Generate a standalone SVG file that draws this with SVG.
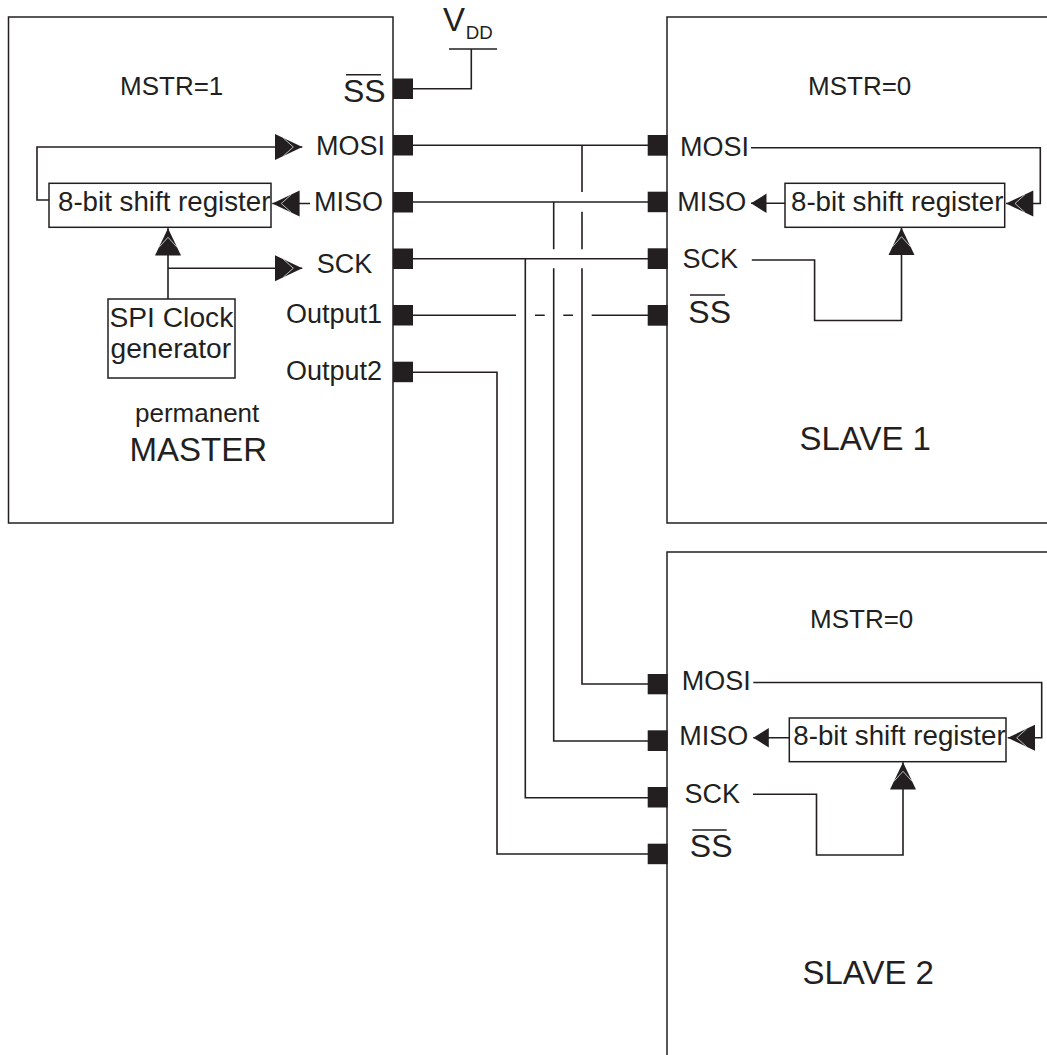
<svg xmlns="http://www.w3.org/2000/svg" width="1047" height="1055" viewBox="0 0 1047 1055">
<style>
text{font-family:"Liberation Sans",Arial,sans-serif;fill:#231f20;font-size:27px}
.b{fill:none;stroke:#231f20;stroke-width:1.5}
.c{fill:none;stroke:#231f20;stroke-width:1.6}
.p{fill:#231f20}
.r{font-size:27.7px}
.s{font-size:32px}
.l{font-size:33px}
.m{font-size:26px}
.g{font-size:28.2px}
</style>
<defs>
<marker id="dbl" markerUnits="userSpaceOnUse" markerWidth="30" markerHeight="30" viewBox="-29 -14 30 28" refX="0" refY="0" orient="auto">
<polygon points="-27.3,-13 0,0 -27.3,13" fill="#231f20"/>
<polyline points="-19,-9 -9,0 -19,9" fill="none" stroke="#fff" stroke-width="0.7"/>
</marker>
<marker id="sgl" markerUnits="userSpaceOnUse" markerWidth="18" markerHeight="22" viewBox="-17 -11 18 22" refX="0" refY="0" orient="auto">
<polygon points="-15.5,-9.7 0,0 -15.5,9.7" fill="#231f20"/>
</marker>
</defs>
<g id="connectors">
<path class="c" d="M449,49H497M471.3,49V88.7H413"/>
<path class="c" d="M413,145.3H648"/>
<path class="c" d="M413,202H648"/>
<path class="c" d="M413,258.7H648"/>
<path class="c" d="M413,315.3H516M535,315.3H544.7M563.3,315.3H573M591.7,315.3H648"/>
<path class="c" d="M413,372.3H497V854H648"/>
<path class="c" d="M582,145.3V192M582,211.7V249.3M582,268.3V684H648"/>
<path class="c" d="M553.7,202V249.3M553.7,268.3V741H648"/>
<path class="c" d="M525.3,258.7V797.7H648"/>
<path class="c" marker-end="url(#dbl)" d="M49,200H37V147H302.3"/>
<path class="c" marker-end="url(#dbl)" d="M310,203.5H272.3"/>
<path class="c" marker-end="url(#dbl)" d="M168,299V228.3"/>
<path class="c" marker-end="url(#dbl)" d="M168,268.2H302.3"/>
<path class="c" marker-end="url(#dbl)" d="M751,147.7H1040.3V203.5H1006"/>
<path class="c" marker-end="url(#sgl)" d="M785,203.3H751"/>
<path class="c" marker-end="url(#dbl)" d="M751.8,260H814.6V320.5H901.5V227.7"/>
<path class="c" marker-end="url(#dbl)" d="M753.3,682.5H1041.7V737.8H1007.7"/>
<path class="c" marker-end="url(#sgl)" d="M789.3,737.7H753.3"/>
<path class="c" marker-end="url(#dbl)" d="M753,794.3H816.5V855H903V762.3"/>
</g>
<g id="vdd">
<text x="443" y="30.7" class="l">V</text>
<text x="465.7" y="39" style="font-size:18.7px">DD</text>
</g>
<g id="master">
<rect class="b" x="8.5" y="17" width="384.5" height="506"/>
<rect class="p" x="393" y="78.5" width="20" height="20.5"/>
<rect class="p" x="393" y="135" width="20" height="20.5"/>
<rect class="p" x="393" y="192" width="20" height="20.5"/>
<rect class="p" x="393" y="248.5" width="20" height="20.5"/>
<rect class="p" x="393" y="305" width="20" height="20.5"/>
<rect class="p" x="393" y="361.7" width="20" height="20.5"/>
<text x="120" y="95" class="m">MSTR=1</text>
<text x="343" y="102.3" class="s">SS</text>
<path class="c" d="M346,74.7H381"/>
<text x="316" y="155.3">MOSI</text>
<text x="314" y="210.7">MISO</text>
<text x="316.7" y="272.7">SCK</text>
<text x="286" y="323.3">Output1</text>
<text x="286" y="380">Output2</text>
<text x="135" y="422.3" class="m">permanent</text>
<text x="129.5" y="460.7" class="l">MASTER</text>
</g>
<g id="master-shift-register">
<rect class="b" x="49" y="183.3" width="222" height="44"/>
<text x="58" y="210.7" class="r">8-bit shift register</text>
</g>
<g id="spi-clock-generator">
<rect class="b" x="108" y="299" width="127" height="79"/>
<text x="109.5" y="326.7" class="g">SPI Clock</text>
<text x="110.5" y="357.5" class="g">generator</text>
</g>
<g id="slave1">
<path class="b" d="M1047,17H667V523H1047"/>
<rect class="p" x="647.7" y="135" width="20" height="20.7"/>
<rect class="p" x="647.7" y="191.7" width="20" height="20.5"/>
<rect class="p" x="647.7" y="248.3" width="20" height="20.7"/>
<rect class="p" x="647.7" y="305" width="20" height="20.7"/>
<text x="808" y="95" class="m">MSTR=0</text>
<text x="680" y="156">MOSI</text>
<text x="677.3" y="210.7">MISO</text>
<text x="682.4" y="268">SCK</text>
<text x="688.3" y="322.7" class="s">SS</text>
<path class="c" d="M690,295H725"/>
<text x="799.5" y="449.5" class="l">SLAVE 1</text>
</g>
<g id="slave1-shift-register">
<rect class="b" x="785" y="183.3" width="219.7" height="44"/>
<text x="791" y="211" class="r">8-bit shift register</text>
</g>
<g id="slave2">
<path class="b" d="M1047,552H667V1055"/>
<rect class="p" x="647.7" y="674" width="20" height="20.3"/>
<rect class="p" x="647.7" y="730.3" width="20" height="20.7"/>
<rect class="p" x="647.7" y="787" width="20" height="20.5"/>
<rect class="p" x="647.7" y="843.7" width="20" height="20.5"/>
<text x="810" y="628" class="m">MSTR=0</text>
<text x="681.7" y="690">MOSI</text>
<text x="679.3" y="745.3">MISO</text>
<text x="684.4" y="803.3">SCK</text>
<text x="689.8" y="857" class="s">SS</text>
<path class="c" d="M692.4,830H726.7"/>
<text x="802.5" y="983.5" class="l">SLAVE 2</text>
</g>
<g id="slave2-shift-register">
<rect class="b" x="789.3" y="718" width="216.7" height="43.7"/>
<text x="793.3" y="745" class="r">8-bit shift register</text>
</g>
</svg>
